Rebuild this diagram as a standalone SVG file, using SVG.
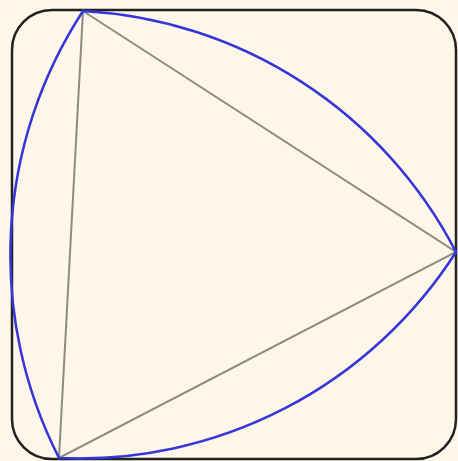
<svg xmlns="http://www.w3.org/2000/svg" width="458" height="461" viewBox="0 0 458 461">
<style>
.frame{fill:#fdf6e9;stroke:#222;stroke-width:2.5}
.tri{fill:none;stroke:#8c8c84;stroke-width:2}
.reu{fill:none;stroke:#3535d8;stroke-width:2.5}
</style>
<rect width="458" height="461" fill="#fdf6e9"/>
<g id="frame"><rect class="frame" x="12" y="10" width="444" height="449" rx="40"/></g>
<g id="triangle"><path class="tri" d="M83,11 L456,252 L59,458 Z"/></g>
<g id="reuleaux"><path class="reu" d="M83,11 A447,447 0 0 1 456,252 A447,447 0 0 1 59,458 A447,447 0 0 1 83,11 Z"/></g>
</svg>
